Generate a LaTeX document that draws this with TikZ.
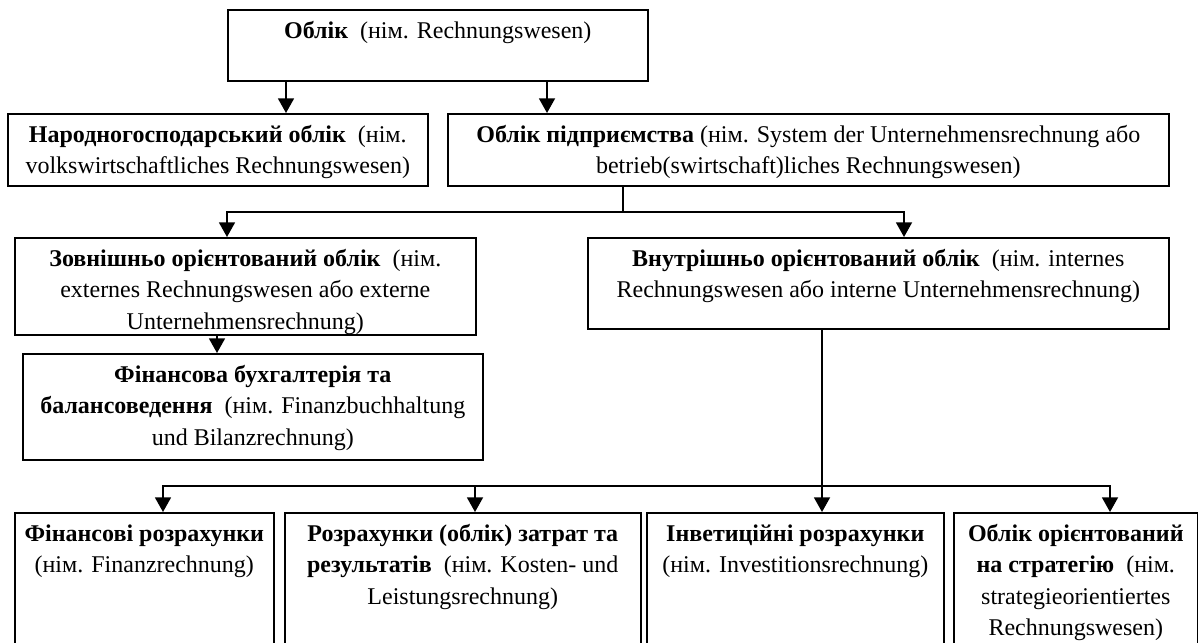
\documentclass[tikz,border=0pt]{standalone}
\usepackage{fontspec}
\setmainfont{Liberation Serif}
\usetikzlibrary{arrows.meta}
\newlength{\pxu}
\setlength{\pxu}{0.75pt}
\newcommand{\boxtext}[3]{\parbox[c][#2\pxu][t]{#1\pxu}{\centering\vspace*{7\pxu}\strut #3\strut}}

\begin{document}
\begin{tikzpicture}[x=0.75pt,y=-0.75pt,line width=1.2pt,>={Triangle[width=12pt,length=11pt]}]
                    \clip (0,0) rectangle (1198,642);
                    \begin{scope}[every node/.style={draw=black,anchor=north west,inner sep=0pt,line width=1.2pt,font=\fontsize{18pt}{23.4pt}\selectfont}]
                        \node (O) at (227,9) {\boxtext{420}{71}{\textbf{Облік}\ \ (нім. Rechnungswesen)}};
                        \node (N) at (7,113) {\boxtext{420}{72}{\textbf{Народногосподарський облік}\ \ (нім.\\ volkswirtschaftliches Rechnungswesen)}};
                        \node (P) at (447,113) {\boxtext{721}{72}{\textbf{Облік підприємства} (нім. System der Unternehmensrechnung або\\ betrieb(swirtschaft)liches Rechnungswesen)}};
                        \node (Z) at (14,237) {\boxtext{461}{97}{\textbf{Зовнішньо орієнтований облік}\ \ (нім.\\ externes Rechnungswesen або externe\\ Unternehmensrechnung)}};
                        \node (V) at (587,237) {\boxtext{581}{91}{\textbf{Внутрішньо орієнтований облік}\ \ (нім. internes\\ Rechnungswesen або interne Unternehmensrechnung)}};
                        \node (F) at (22,353) {\boxtext{460}{106}{\textbf{Фінансова бухгалтерія та}\\ \textbf{балансоведення}\ \ (нім. Finanzbuchhaltung\\ und Bilanzrechnung)}};
                        \node (B1) at (14,512) {\boxtext{259}{145}{\textbf{Фінансові розрахунки}\\ (нім. Finanzrechnung)}};
                        \node (B2) at (284,512) {\boxtext{356}{145}{\textbf{Розрахунки (облік) затрат та}\\ \textbf{результатів}\ \ (нім. Kosten- und\\ Leistungsrechnung)}};
                        \node (B3) at (646,512) {\boxtext{297}{145}{\textbf{Інветиційні розрахунки}\\ (нім. Investitionsrechnung)}};
                        \node (B4) at (953,512) {\boxtext{244}{145}{\textbf{Облік орієнтований}\\ \textbf{на стратегію}\ \ (нім.\\ strategieorientiertes\\ Rechnungswesen)}};
                    \end{scope}
                    \begin{scope}[line width=1.3pt]
                        \draw[->] (O.south -| 286,0) -- (N.north -| 286,0);
                        \draw[->] (O.south -| 547,0) -- (P.north -| 547,0);
                        \draw[->] (P.south -| 623,0) -- (623,212) -| (Z.north -| 227,0);
                        \draw[->] (623,212) -| (V.north -| 904,0);
                        \draw[->] (Z.south -| 217,0) -- (F.north -| 217,0);
                        \draw (V.south -| 822,0) -- (822,486);
                        \draw[->] (822,486) -| (B1.north -| 163,0);
                        \draw[->] (475,486) -- (B2.north -| 475,0);
                        \draw[->] (822,486) -- (B3.north -| 822,0);
                        \draw[->] (822,486) -| (B4.north -| 1110,0);
                    \end{scope}
                \end{tikzpicture}
\end{document}
